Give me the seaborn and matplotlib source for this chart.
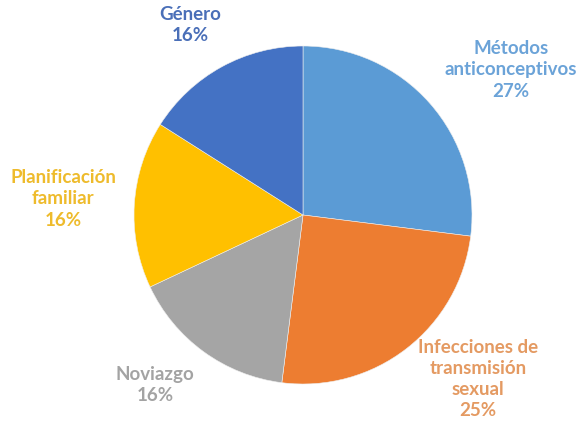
import matplotlib
matplotlib.use("Agg")
import matplotlib.pyplot as plt
import seaborn as sns

# Data (clockwise from 12 o'clock)
categories = ["Métodos\nanticonceptivos", "Infecciones de\ntransmisión\nsexual",
              "Noviazgo", "Planificación\nfamiliar", "Género"]
shares = [27, 25, 16, 16, 16]

slice_colors = ["#5B9BD5", "#ED7D31", "#A5A5A5", "#FFC000", "#4472C4"]
label_colors = ["#6BA3D8", "#E49A62", "#A3A3A3", "#EEBB2C", "#4A6FB8"]
# label centres in pixels (x, y from top)
label_pos = [(511, 70), (478, 379), (155, 385), (63, 199), (190, 25)]

sns.set_theme(style="white")
plt.rcParams["font.family"] = ["Lato", "DejaVu Sans"]

W, H = 582, 427
cx, cy, r = 303, 216, 169
fig = plt.figure(figsize=(W / 100, H / 100), dpi=100)
ax = fig.add_axes([(cx - r) / W, (H - cy - r) / H, 2 * r / W, 2 * r / H])

ax.pie(shares, colors=slice_colors, startangle=90, counterclock=False,
       radius=1, wedgeprops=dict(edgecolor="#eeeeee", linewidth=0.4))
ax.set_xlim(-1, 1)
ax.set_ylim(-1, 1)
ax.axis("off")

for cat, val, col, (px, py) in zip(categories, shares, label_colors, label_pos):
    fig.text(px / W, 1 - py / H, f"{cat}\n{val}%", color=col, fontsize=13.5,
             fontweight="bold", ha="center", va="center", linespacing=1.3)

fig.savefig("out.png", dpi=100, facecolor="white")
